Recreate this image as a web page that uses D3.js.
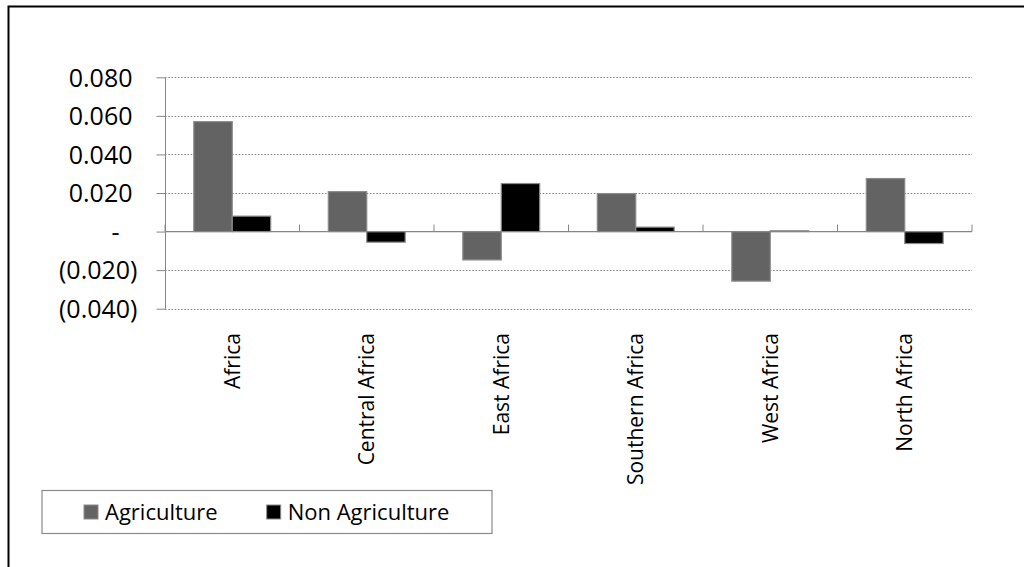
<!DOCTYPE html>
<html><head><meta charset="utf-8">
<script src="https://cdn.jsdelivr.net/npm/d3@7"></script>
<style>
html,body{margin:0;padding:0;background:#fff;}
svg{display:block;font-family:"Open Sans",sans-serif;}
</style></head>
<body><svg id="c" width="1024" height="567"></svg>
<script>
const categories = ["Africa","Central Africa","East Africa","Southern Africa","West Africa","North Africa"];
const seriesNames = ["Agriculture","Non Agriculture"];
const agriculture = [0.057, 0.0207, -0.0147, 0.0197, -0.0257, 0.0275];
const nonAgriculture = [0.008, -0.0055, 0.0249, 0.0023, 0.0004, -0.0062];
const yTicks = [-0.04,-0.02,0,0.02,0.04,0.06,0.08];
const yTickLabels = ["(0.040)","(0.020)","-","0.020","0.040","0.060","0.080"];

(function(){
const svg = d3.select("#c");
const plotL = 165, plotR = 972, plotT = 77.3, plotB = 308.7;

// outer frame
svg.append("path").attr("d","M8.5,567 V6.5 H1024").attr("fill","none").attr("stroke","#000").attr("stroke-width",2);

const y = d3.scaleLinear().domain([-0.04,0.08]).range([plotB, plotT]);
const x0 = d3.scaleBand().domain(categories).range([plotL,plotR]).paddingInner(0).paddingOuter(0);
const bw = x0.bandwidth();
const barW = bw/3.5;
const x1 = d3.scaleBand().domain(seriesNames).range([0.75*barW, 2.75*barW]).padding(0);

const axisColor = "#868686";
// gridlines
svg.append("g").selectAll("line").data(yTicks.filter(d=>d!==0)).join("line")
  .attr("x1",plotL).attr("x2",plotR)
  .attr("y1",d=>Math.round(y(d))+0.5).attr("y2",d=>Math.round(y(d))+0.5)
  .attr("stroke","#8c8c8c").attr("stroke-width",1).attr("stroke-dasharray","1.6,1.6");

// y axis
const yAxis = d3.axisLeft(y).tickValues(yTicks).tickSize(9).tickFormat((d,i)=>yTickLabels[i]);
const gy = svg.append("g").attr("transform",`translate(${plotL+0.5},0)`).call(yAxis);
gy.select(".domain").attr("stroke",axisColor).attr("d",`M0,${y(0.08)}V${y(-0.04)}`);
gy.selectAll(".tick line").attr("stroke",axisColor);
gy.selectAll(".tick text")
  .attr("font-family","Open Sans").attr("font-size","25px").attr("fill","#000")
  .attr("x",d=> d<0 ? -28 : (d===0 ? -46 : -33))
  .attr("dy","0.35em");

// bars
const data = categories.map((c,i)=>({cat:c, vals:[
  {s:seriesNames[0], v:agriculture[i]},
  {s:seriesNames[1], v:nonAgriculture[i]}]}));
const colors = {"Agriculture":"#636363","Non Agriculture":"#000000"};
const g = svg.append("g");
g.selectAll("g").data(data).join("g")
  .attr("transform",d=>`translate(${x0(d.cat)},0)`)
  .selectAll("rect").data(d=>d.vals).join("rect")
  .attr("x",d=>x1(d.s))
  .attr("width",x1.bandwidth())
  .attr("y",d=>y(Math.max(0,d.v)))
  .attr("height",d=>Math.abs(y(d.v)-y(0)))
  .attr("fill",d=>colors[d.s])
  .attr("stroke","#8a8a8a").attr("stroke-width",1.2);

// x axis at zero
const xAxisScale = d3.scaleLinear().domain([0,categories.length]).range([plotL,plotR]);
const gx = svg.append("g").attr("transform",`translate(0,${y(0)})`);
gx.append("line").attr("x1",plotL).attr("x2",plotR).attr("y1",0).attr("y2",0)
  .attr("stroke",axisColor).attr("stroke-width",1.2);
gx.selectAll("line.tk").data(d3.range(categories.length+1)).join("line").attr("class","tk")
  .attr("x1",d=>xAxisScale(d)).attr("x2",d=>xAxisScale(d))
  .attr("y1",0).attr("y2",-7).attr("stroke",axisColor).attr("stroke-width",1);

// category labels
svg.append("g").selectAll("text").data(categories).join("text")
  .attr("transform",d=>`translate(${x0(d)+bw/2},333) rotate(-90)`)
  .attr("text-anchor","end").attr("dy","0.35em")
  .attr("font-size","21px").attr("fill","#000")
  .text(d=>d);

// legend
const lg = svg.append("g");
lg.append("rect").attr("x",42).attr("y",490.5).attr("width",450).attr("height",43)
  .attr("fill","#fff").attr("stroke","#8a8a8a").attr("stroke-width",1.2);
const legendX = [84, 266.7];
const items = lg.selectAll("g").data(seriesNames).join("g")
  .attr("transform",(d,i)=>`translate(${legendX[i]},505)`);
items.append("rect").attr("width",14).attr("height",14)
  .attr("fill",d=>colors[d]).attr("stroke","#8a8a8a").attr("stroke-width",1);
items.append("text").attr("x",21).attr("y",7).attr("dy","0.35em")
  .attr("font-size","22px").attr("fill","#000").text(d=>d);
})();
</script></body></html>
